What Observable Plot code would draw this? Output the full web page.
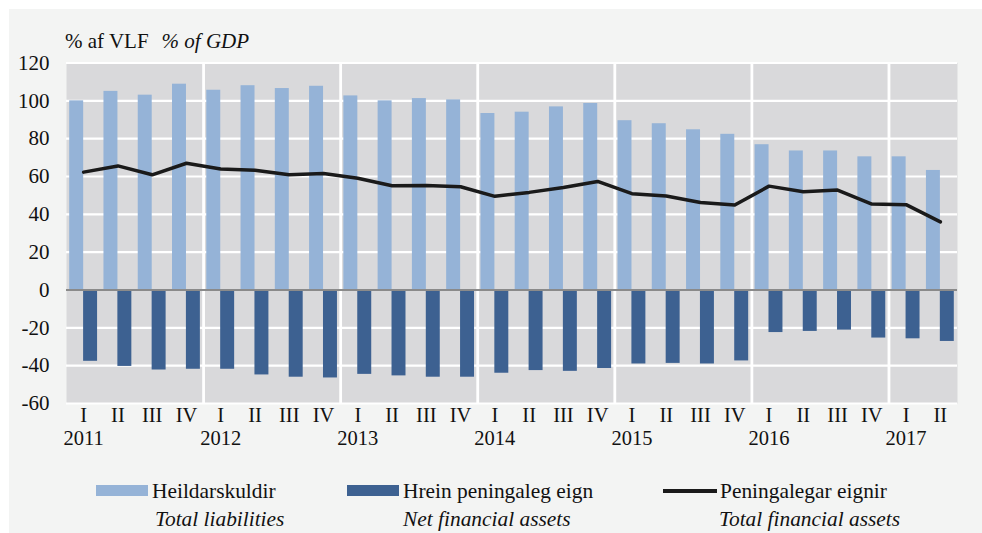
<!DOCTYPE html>
<html>
<head>
<meta charset="utf-8">
<script src="https://cdn.jsdelivr.net/npm/d3@7"></script>
<script src="https://cdn.jsdelivr.net/npm/@observablehq/plot@0.6"></script>
<style>
  html, body { margin: 0; padding: 0; background: #ffffff; }
  body { width: 982px; height: 533px; position: relative; overflow: hidden; font-family: 'Liberation Serif', Tinos, 'Times New Roman', 'DejaVu Serif', serif; color: #111; }
  #bg { position: absolute; left: 9px; top: 9px; right: 0; bottom: 0; background: #f3f4f3; }
  #chart { position: absolute; left: 0; top: 0; }
  .t { position: absolute; font-size: 21.4px; line-height: 22px; white-space: nowrap; }
  .i { font-style: italic; }
  .sw { position: absolute; height: 11px; }
  .ln { position: absolute; height: 4px; background: #1a1a1a; }
  #chart svg text { font-family: 'Liberation Serif', Tinos, 'Times New Roman', 'DejaVu Serif', serif; }
</style>
</head>
<body>
<div id="bg"></div>
<div id="chart"></div>
<div class="t" style="left:65px; top:30px; font-size:21px;">% af VLF<span class="i" style="margin-left:13px;">% of GDP</span></div>

<div class="sw" style="left:96px; top:485px; width:52px; background:#95b3d7;"></div>
<div class="t" style="left:152px; top:480px;">Heildarskuldir</div>
<div class="t i" style="left:155px; top:508px;">Total liabilities</div>

<div class="sw" style="left:347px; top:485px; width:52px; background:#3d6191;"></div>
<div class="t" style="left:403px; top:480px;">Hrein peningaleg eign</div>
<div class="t i" style="left:403px; top:508px;">Net financial assets</div>

<div class="ln" style="left:663px; top:489px; width:54px;"></div>
<div class="t" style="left:720px; top:480px;">Peningalegar eignir</div>
<div class="t i" style="left:719px; top:508px;">Total financial assets</div>

<script>
const years = [2011, 2012, 2013, 2014, 2015, 2016, 2017];
const quarterNames = ["I", "II", "III", "IV"];
const quarters = ["I","II","III","IV","I","II","III","IV","I","II","III","IV","I","II","III","IV","I","II","III","IV","I","II","III","IV","I","II"];
const totalLiabilities = [100, 105, 103, 108.8, 105.6, 108, 106.5, 107.7, 102.6, 100, 101.2, 100.5, 93.3, 94, 96.8, 98.6, 89.5, 87.9, 84.7, 82.3, 76.8, 73.5, 73.5, 70.4, 70.4, 63.2];
const netFinancialAssets = [-37.7, -40.4, -42.3, -41.9, -41.9, -44.9, -46.1, -46.5, -44.6, -45.4, -46.1, -46.1, -44, -42.6, -43, -41.5, -39.1, -38.8, -39.1, -37.5, -22.5, -21.9, -21.2, -25.4, -25.8, -27.2];
const totalFinancialAssets = [62.3, 65.6, 60.9, 67, 64, 63.3, 60.9, 61.6, 59.1, 55.1, 55.3, 54.6, 49.5, 51.6, 54.2, 57.4, 50.9, 49.7, 46.3, 44.9, 54.9, 51.9, 52.8, 45.4, 45.1, 36];
const yTicks = [-60, -40, -20, 0, 20, 40, 60, 80, 100, 120];

const data = quarters.map((q, i) => ({
  i, q,
  year: years[Math.floor(i / 4)],
  liab: totalLiabilities[i],
  net: netFinancialAssets[i],
  assets: totalFinancialAssets[i]
}));
const yearStarts = data.filter(d => d.q === quarterNames[0]);
const yearBounds = yearStarts.filter(d => d.i > 0).map(d => d.i);

const chart = Plot.plot({
  width: 982,
  height: 460,
  marginLeft: 66,
  marginRight: 25,
  marginTop: 62.5,
  marginBottom: 57,
  style: { fontSize: "20px", background: "transparent", color: "#111" },
  x: { type: "linear", domain: [0, quarters.length], axis: null },
  y: { domain: [-60, 120], axis: null },
  marks: [
    Plot.frame({ fill: "#d9d9db", stroke: null }),
    Plot.ruleY(yTicks, { stroke: "#ffffff", strokeWidth: 2.2 }),
    Plot.ruleX(yearBounds, { stroke: "#ffffff", strokeWidth: 2.8 }),
    Plot.rectY(data, { x1: "i", x2: d => d.i + 1, y1: 0, y2: "liab", fill: "#95b3d7", insetLeft: 3.2, insetRight: 17.1 }),
    Plot.rectY(data, { x1: "i", x2: d => d.i + 1, y1: 0, y2: "net", fill: "#3d6191", insetLeft: 17.1, insetRight: 3.2 }),
    Plot.ruleY([0], { stroke: "#8a8a8a", strokeWidth: 2 }),
    Plot.line(data, { x: d => d.i + 0.5, y: "assets", stroke: "#1a1a1a", strokeWidth: 3.5, strokeLinejoin: "round" }),
    Plot.axisY({ ticks: yTicks, tickSize: 0, tickPadding: 17, fontSize: 21, label: null, tickFormat: d => String(d) }),
    Plot.text(data, { x: d => d.i + 0.5, text: "q", frameAnchor: "bottom", dy: 18, fontSize: 20.5, fill: "#111" }),
    Plot.text(yearStarts, { x: d => d.i + 0.5, text: d => String(d.year), frameAnchor: "bottom", dy: 41, fontSize: 20.5, fill: "#111" })
  ]
});
document.getElementById("chart").appendChild(chart);
</script>
</body>
</html>
